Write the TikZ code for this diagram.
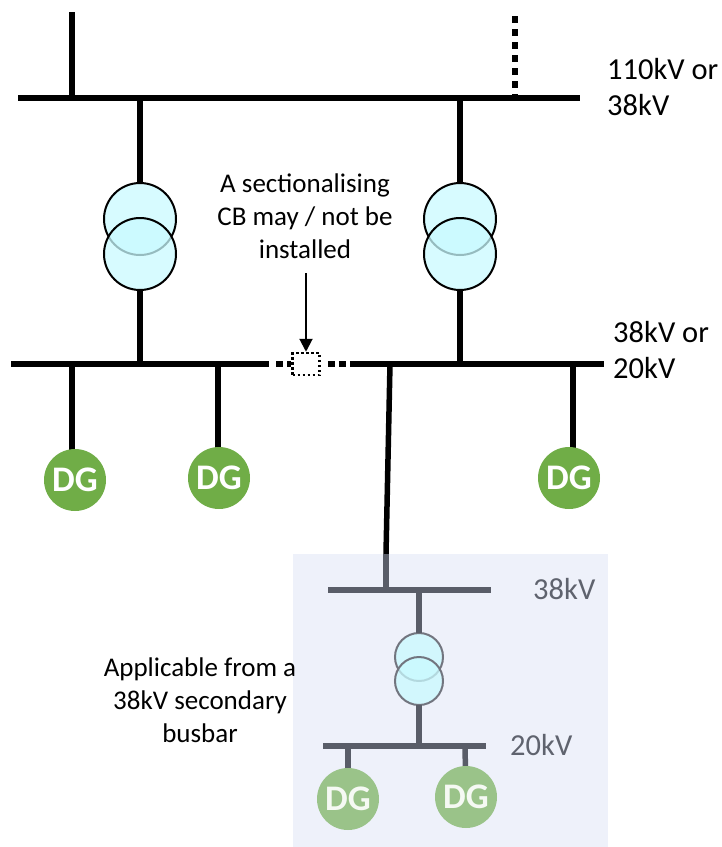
\documentclass[tikz,border=0pt]{standalone}
\usepackage{fontspec}
\setmainfont{Carlito}
\usetikzlibrary{arrows.meta}
\definecolor{xfmrfill}{HTML}{C9FAFF}
\definecolor{dggreen}{HTML}{70AD47}
\definecolor{dgfaded}{HTML}{9AC389}
\definecolor{busgrey}{HTML}{595D68}
\definecolor{panelblue}{HTML}{EEF1FA}
\definecolor{labelgrey}{HTML}{5F636E}
\begin{document}
\begin{tikzpicture}
  [x=1pt,y=-1pt,
   every node/.style={font=\fontsize{27}{33}\selectfont},
   bus/.style={line width=6.5pt},
   feeder/.style={line width=5.5pt},
   greybus/.style={line width=6pt,busgrey},
   greyfeeder/.style={line width=5.5pt,busgrey},
   xfmr/.style={circle,draw=black,line width=2pt,fill=xfmrfill,fill opacity=.75,
                minimum size=72pt,inner sep=0pt,outer sep=0pt},
   smallxfmr/.style={xfmr,draw=busgrey!85,minimum size=48pt},
   dg/.style={circle,fill=dggreen,text=white,minimum size=62pt,inner sep=0pt,
              font=\fontsize{36}{36}\selectfont\bfseries},
   fadeddg/.style={dg,fill=dgfaded,text=white!90!dgfaded},
   label/.style={align=left,anchor=west,inner sep=0pt,font=\fontsize{30.5}{36}\selectfont},
   note/.style={align=center,inner sep=0pt}]
  \useasboundingbox (0,0) rectangle (722,847);
  \fill[panelblue] (293,554) rectangle (608,847);

  % top busbar
  \coordinate (b1l) at (18,98);
  \coordinate (b1r) at (580,98);
  \coordinate (b1a) at (72,98);
  \coordinate (b1b) at (140,98);
  \coordinate (b1c) at (460,98);
  \coordinate (b1d) at (515,98);
  \coordinate (up1) at (72,12);
  \coordinate (up2) at (515,16);
  \draw[bus] (b1l) -- (b1r);
  \draw[feeder] (b1a) -- (up1);
  \draw[line width=6pt,dash pattern=on 6.5pt off 6.5pt] (up2) -- (b1d);

  % second busbar, in two sections
  \coordinate (b2l) at (11,364);
  \coordinate (b2m) at (269,364);
  \coordinate (b2n) at (352,364);
  \coordinate (b2r) at (604,364);
  \coordinate (b2a) at (72,364);
  \coordinate (b2b) at (140,364);
  \coordinate (b2c) at (218,364);
  \coordinate (b2d) at (390,364);
  \coordinate (b2e) at (460,364);
  \coordinate (b2f) at (573,364);
  \draw[bus] (b2l) -- (b2m);
  \draw[bus] (b2n) -- (b2r);

  % sectionalising CB
  \node[draw,dash pattern=on 2.5pt off 2.5pt,line width=2.5pt,minimum width=27pt,minimum height=22pt,
        inner sep=0pt] (cb) at (306,364) {};
  \draw[bus,dash pattern=on 7pt off 4pt] (b2m) ++(7,0) coordinate (cbl) -- (cb.west);
  \draw[bus,dash pattern=on 7pt off 4pt] (cb.east) ++(7,0) coordinate (cbr) -- (b2n);
  \node[note] (cbnote) at (305,216) {A sectionalising\\CB may / not be\\installed};
  \coordinate (cbtail) at (306,273);
  \draw[line width=2pt,-{Triangle[length=13pt,width=13pt]}] (cbtail) -- (cb.north);

  % transformers
  \node[xfmr] (t1a) at (140,219) {};
  \node[xfmr] (t1b) at (140,254) {};
  \node[xfmr] (t2a) at (460,219) {};
  \node[xfmr] (t2b) at (460,254) {};
  \draw[feeder] (b1b) -- (t1a);
  \draw[feeder] (t1b) -- (b2b);
  \draw[feeder] (b1c) -- (t2a);
  \draw[feeder] (t2b) -- (b2e);

  % generators
  \coordinate (d1t) at (72,455);
  \coordinate (d2t) at (218,450);
  \coordinate (d3t) at (573,450);
  \draw[feeder] (b2a) -- (d1t);
  \draw[feeder] (b2c) -- (d2t);
  \draw[feeder] (b2f) -- (d3t);
  \node[dg] (dg1) at (75,480) {DG};
  \node[dg] (dg2) at (219,478) {DG};
  \node[dg] (dg3) at (569,478) {DG};

  % 38kV secondary busbar
  \coordinate (tap) at (386,554);
  \coordinate (b3l) at (328,590);
  \coordinate (b3r) at (491,590);
  \coordinate (b3a) at (386,590);
  \coordinate (b3b) at (419,590);
  \coordinate (b4l) at (323,746);
  \coordinate (b4r) at (486,746);
  \coordinate (b4a) at (419,746);
  \coordinate (b4b) at (348,746);
  \coordinate (b4c) at (465,746);
  \draw[feeder] (b2d) -- (tap);
  \draw[greyfeeder] (tap) -- (b3a);
  \draw[greybus] (b3l) -- (b3r);
  \draw[greybus] (b4l) -- (b4r);
  \node[smallxfmr] (t3a) at (419,657) {};
  \node[smallxfmr] (t3b) at (419,681) {};
  \draw[greyfeeder] (b3b) -- (t3a);
  \draw[greyfeeder] (t3b) -- (b4a);
  \node[fadeddg] (dg4) at (348,799) {DG};
  \node[fadeddg] (dg5) at (466,797) {DG};
  \draw[greyfeeder] (b4b) -- (dg4);
  \draw[greyfeeder] (b4c) -- (dg5);

  % voltage labels
  \node[label] (v1) at (607,87) {110kV or\\38kV};
  \node[label] (v2) at (613,350) {38kV or\\20kV};
  \node[label,text=labelgrey] (v3) at (533,589) {38kV};
  \node[label,text=labelgrey] (v4) at (510,745) {20kV};
  \node[note] (appl) at (200,700) {Applicable from a\\38kV secondary\\busbar};
\end{tikzpicture}
\end{document}
